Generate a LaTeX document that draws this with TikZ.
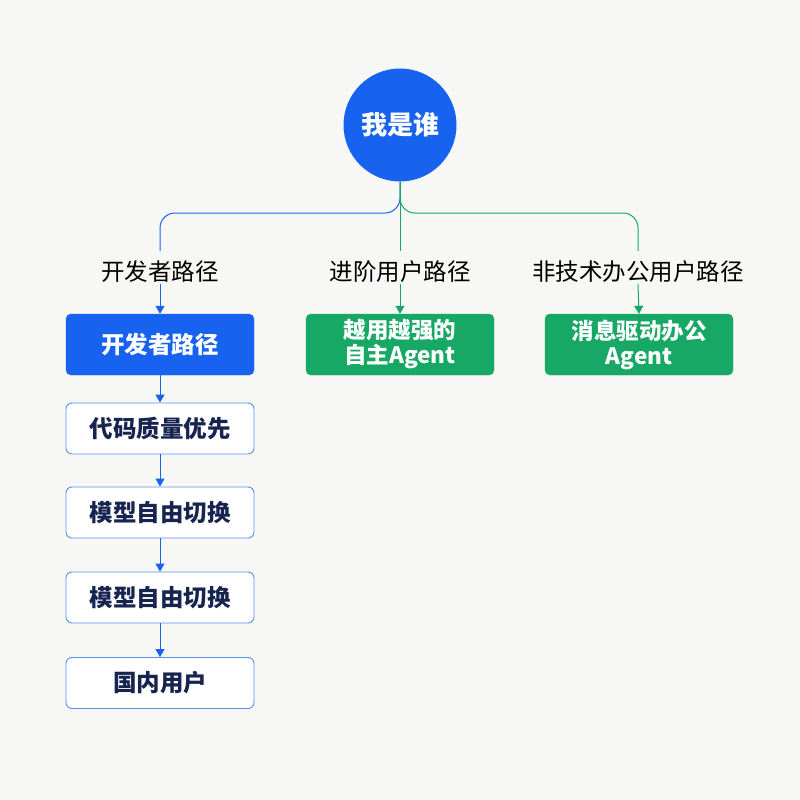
\documentclass[tikz,border=0pt]{standalone}
\usepackage{fontspec}
\setmainfont{Noto Sans CJK SC}
\usetikzlibrary{arrows.meta}
\definecolor{mblue}{HTML}{1763F0}
\definecolor{mgreen}{HTML}{17A865}
\definecolor{navy}{HTML}{16244F}
\definecolor{lborder}{HTML}{5A90F2}
\definecolor{bg}{HTML}{F7F8F5}
\tikzset{
  x=1pt,y=-1pt,
  bluebox/.style={draw=mblue,fill=mblue,rounded corners=5pt,minimum width=188pt,minimum height=61pt,text=white,font=\fontsize{23.5}{26}\selectfont\bfseries,align=center},
  greenbox/.style={draw=mgreen,fill=mgreen,rounded corners=5pt,minimum width=188pt,minimum height=61pt,text=white,font=\fontsize{22.5}{25}\selectfont\bfseries,align=center,inner sep=1pt},
  whitebox/.style={draw=lborder,line width=0.9pt,fill=white,rounded corners=6pt,minimum width=188pt,minimum height=51pt,text=navy,font=\fontsize{23.5}{26}\selectfont\bfseries},
  lbl/.style={font=\fontsize{23.5}{26}\selectfont,text=black,inner sep=1pt},
  arr/.style={-{Triangle[length=8pt,width=9pt]},line width=1pt},
  conn/.style={line width=1pt,rounded corners=15pt},
}
\begin{document}
\begin{tikzpicture}
\fill[bg] (0,0) rectangle (800,800);
\useasboundingbox (0,0) rectangle (800,800);
\node[circle,fill=mblue,minimum size=113pt,inner sep=0pt,text=white,font=\fontsize{26}{30}\selectfont\bfseries] (root) at (400,125) {我是谁};
\node[lbl] (l1) at (160,272) {开发者路径};
\node[lbl] (l2) at (400,272) {进阶用户路径};
\node[lbl] (l3) at (638,272) {非技术办公用户路径};
\coordinate (e1) at (160,251);
\coordinate (e2) at (400,251);
\coordinate (e3) at (638,251);
\draw[conn,mblue] (root.south) |- (160,213) -- (e1);
\draw[conn,mgreen] (root.south) -- (e2);
\draw[conn,mgreen] (root.south) |- (638,213) -- (e3);
\node[bluebox] (b1) at (160,344.5) {开发者路径};
\node[greenbox] (g2) at (400,344.5) {越用越强的\\自主Agent};
\node[greenbox] (g3) at (639,344.5) {消息驱动办公\\Agent};
\node[whitebox] (w1) at (160,428.5) {代码质量优先};
\node[whitebox] (w2) at (160,512.5) {模型自由切换};
\node[whitebox] (w3) at (160,597.5) {模型自由切换};
\node[whitebox] (w4) at (160,683) {国内用户};
\draw[arr,mblue] (l1.south) -- (b1.north);
\draw[arr,mgreen] (l2.south) -- (g2.north);
\draw[arr,mgreen] (l3.south) -- (g3.north);
\draw[arr,mblue] (b1.south) -- (w1.north);
\draw[arr,mblue] (w1.south) -- (w2.north);
\draw[arr,mblue] (w2.south) -- (w3.north);
\draw[arr,mblue] (w3.south) -- (w4.north);
\end{tikzpicture}
\end{document}
